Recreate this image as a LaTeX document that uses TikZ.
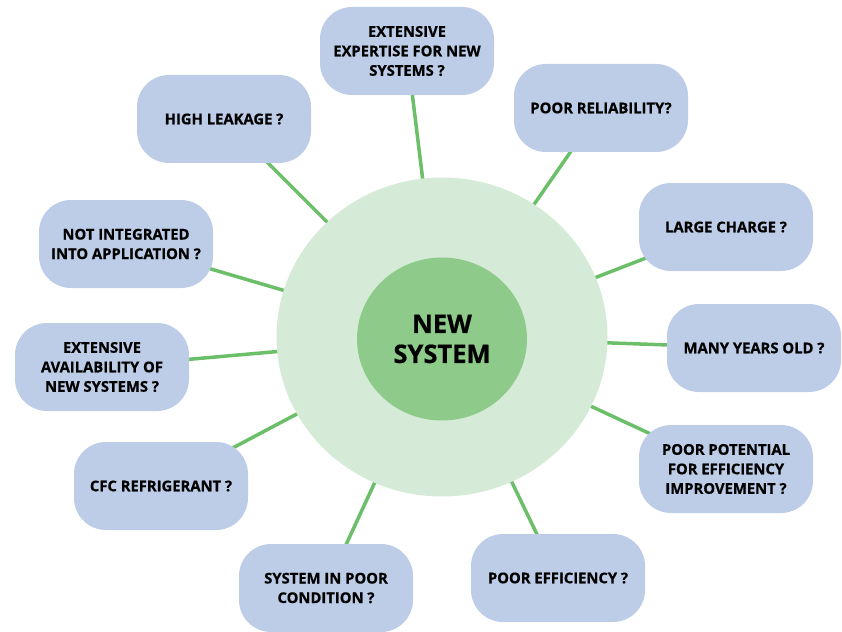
\documentclass[tikz,border=0pt]{standalone}
\usepackage{fontspec}
\setmainfont{Open Sans}[BoldFeatures={FakeBold=0.6}]
\usetikzlibrary{shapes.geometric,backgrounds}
\definecolor{boxblue}{HTML}{BDCDE7}
\definecolor{ringgreen}{HTML}{D6EBD7}
\definecolor{coregreen}{HTML}{8ECB8A}
\definecolor{spokegreen}{HTML}{6CBF69}
\begin{document}
\begin{tikzpicture}
		[x=1pt,y=-1pt,
		question/.style={rectangle,rounded corners=32pt,fill=boxblue,inner sep=0pt,
minimum width=174pt,minimum height=88pt,align=center,
font=\bfseries\fontsize{14.8}{19.5}\selectfont},
		ring/.style={ellipse,fill=ringgreen,inner sep=0pt,minimum width=331pt,minimum height=319pt},
		core/.style={ellipse,fill=coregreen,inner sep=0pt,minimum width=170pt,minimum height=163pt,
align=center,font=\bfseries\fontsize{25.5}{30}\selectfont},
		spoke/.style={-,line width=3.5pt,spokegreen}]
		\useasboundingbox (0,0) rectangle (842,631);
		\node at (442,337) (hub) [ring] {};
		\node at (442,339) (new) [core] {NEW\\SYSTEM};
		\node at (407,51) (expertise) [question] {EXTENSIVE\\EXPERTISE FOR NEW\\SYSTEMS ?};
		\node at (601,108) (reliability) [question] {POOR RELIABILITY?};
		\node at (224,119) (leakage) [question] {HIGH LEAKAGE ?};
		\node at (126,244) (integrated) [question] {NOT INTEGRATED\\INTO APPLICATION ?};
		\node at (726,227) (charge) [question] {LARGE CHARGE ?};
		\node at (102,367) (availability) [question] {EXTENSIVE\\AVAILABILITY OF\\NEW SYSTEMS ?};
		\node at (754,348) (old) [question] {MANY YEARS OLD ?};
		\node at (161,486) (cfc) [question] {CFC REFRIGERANT ?};
		\node at (726,469) (potential) [question] {POOR POTENTIAL\\FOR EFFICIENCY\\IMPROVEMENT ?};
		\node at (558,578) (efficiency) [question] {POOR EFFICIENCY ?};
		\node at (326,588) (condition) [question] {SYSTEM IN POOR\\CONDITION ?};
		\begin{scope}[on background layer]
			\foreach \q in {expertise,reliability,leakage,integrated,charge,availability,old,cfc,potential,efficiency,condition}
				\draw[spoke] (\q.center) -- (hub.center);
		\end{scope}
	\end{tikzpicture}
\end{document}
